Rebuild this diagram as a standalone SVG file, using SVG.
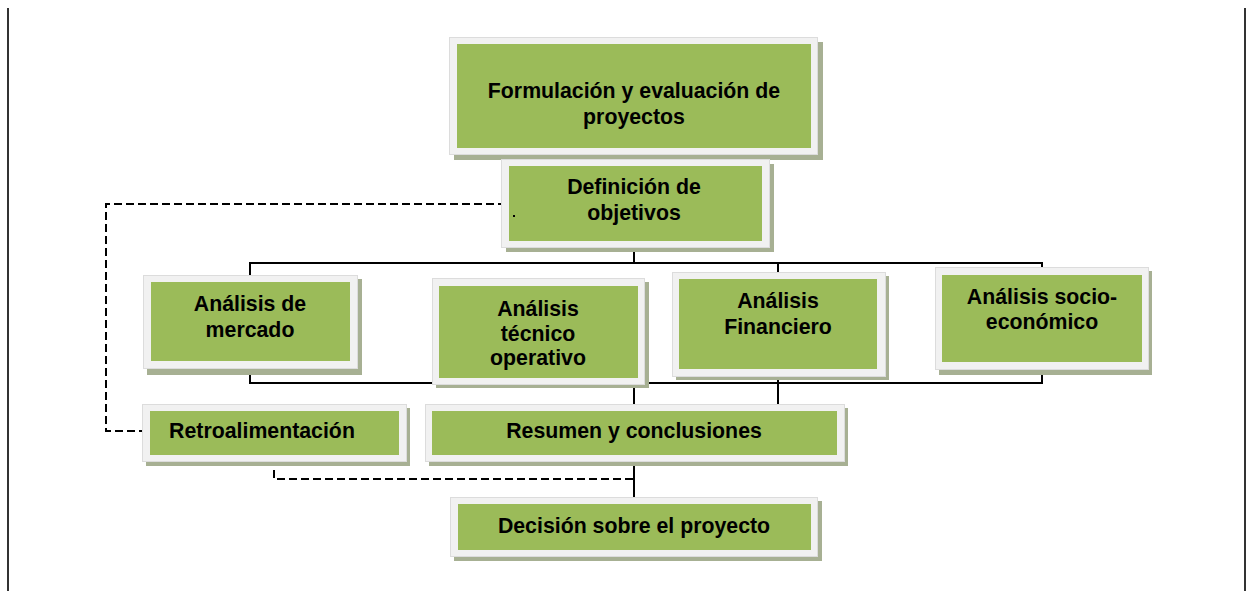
<svg xmlns="http://www.w3.org/2000/svg" width="1249" height="591" viewBox="0 0 1249 591">
<style>
.shadow{fill:#a7b093}
.frame{fill:#f1f1f1;stroke:#dcdcdc;stroke-width:1}
.box{fill:#9bbb59}
.t{font-family:"Liberation Sans",Arial,sans-serif;font-weight:bold;font-size:21.3px;fill:#000;text-anchor:middle}
.c{fill:none;stroke:#000;stroke-width:2}
.d{fill:none;stroke:#000;stroke-width:2;stroke-dasharray:8 4}
.border{stroke:#333;stroke-width:2}
</style>
<rect width="1249" height="591" fill="#fff"/>
<line class="border" x1="8" y1="8" x2="8" y2="591"/>
<line class="border" x1="1245" y1="8" x2="1245" y2="591"/>

<g id="connectors">
<line class="c" x1="634" y1="148" x2="634" y2="166"/>
<polyline class="c" points="250,281 250,263 1042,263 1042,274"/>
<line class="c" x1="634" y1="241" x2="634" y2="263"/>
<line class="c" x1="778" y1="263" x2="778" y2="279"/>
<polyline class="c" points="250,365 250,383 1042,383 1042,362"/>
<line class="c" x1="538" y1="361" x2="538" y2="383"/>
<line class="c" x1="634" y1="378" x2="634" y2="411"/>
<line class="c" x1="778" y1="369" x2="778" y2="411"/>
<line class="c" x1="634" y1="455" x2="634" y2="504"/>
<polyline class="d" points="506,204 106,204 106,431 150,431"/>
<polyline class="d" points="274,458 274,479 634,479"/>
</g>

<g id="n-formulacion">
<rect class="shadow" x="454" y="42" width="369" height="118"/>
<rect class="frame" x="449.5" y="37.5" width="368" height="117"/>
<rect class="box" x="457" y="44" width="354" height="104"/>
<text class="t" x="634" y="98">Formulación y evaluación de</text>
<text class="t" x="634" y="124">proyectos</text>
</g>

<g id="n-definicion">
<rect class="shadow" x="506" y="164" width="268" height="88"/>
<rect class="frame" x="501.5" y="159.5" width="268" height="88"/>
<rect class="box" x="509" y="166" width="253" height="75"/>
<rect x="513" y="215" width="2" height="2" fill="#000"/>
<text class="t" x="634" y="194">Definición de</text>
<text class="t" x="634" y="220">objetivos</text>
</g>

<g id="n-mercado">
<rect class="shadow" x="147" y="279" width="215" height="96"/>
<rect class="frame" x="143.5" y="275.5" width="214" height="93"/>
<rect class="box" x="151" y="282" width="199" height="79"/>
<text class="t" x="250" y="311">Análisis de</text>
<text class="t" x="250" y="337">mercado</text>
</g>

<g id="n-tecnico">
<rect class="shadow" x="436" y="282" width="213" height="106"/>
<rect class="frame" x="432.5" y="278.5" width="212" height="106"/>
<rect class="box" x="439" y="286" width="199" height="92"/>
<text class="t" x="538" y="316">Análisis</text>
<text class="t" x="538" y="341">técnico</text>
<text class="t" x="538" y="365">operativo</text>
</g>

<g id="n-financiero">
<rect class="shadow" x="676" y="276" width="213" height="104"/>
<rect class="frame" x="672.5" y="272.5" width="213" height="104"/>
<rect class="box" x="679" y="279" width="198" height="90"/>
<text class="t" x="778" y="308">Análisis</text>
<text class="t" x="778" y="334">Financiero</text>
</g>

<g id="n-socio">
<rect class="shadow" x="939" y="271" width="213" height="104"/>
<rect class="frame" x="935.5" y="267.5" width="213" height="102"/>
<rect class="box" x="942" y="275" width="200" height="87"/>
<text class="t" x="1042" y="304">Análisis socio-</text>
<text class="t" x="1042" y="329">económico</text>
</g>

<g id="n-retro">
<rect class="shadow" x="146" y="408" width="264" height="58"/>
<rect class="frame" x="142.5" y="404.5" width="264" height="57"/>
<rect class="box" x="150" y="411" width="249" height="44"/>
<text class="t" x="262" y="438">Retroalimentación</text>
</g>

<g id="n-resumen">
<rect class="shadow" x="429" y="408" width="419" height="58"/>
<rect class="frame" x="425.5" y="404.5" width="419" height="57"/>
<rect class="box" x="432" y="411" width="405" height="44"/>
<text class="t" x="634" y="438">Resumen y conclusiones</text>
</g>

<g id="n-decision">
<rect class="shadow" x="454" y="501" width="368" height="60"/>
<rect class="frame" x="450.5" y="497.5" width="367" height="59"/>
<rect class="box" x="458" y="504" width="353" height="46"/>
<text class="t" x="634" y="533">Decisión sobre el proyecto</text>
</g>
</svg>
